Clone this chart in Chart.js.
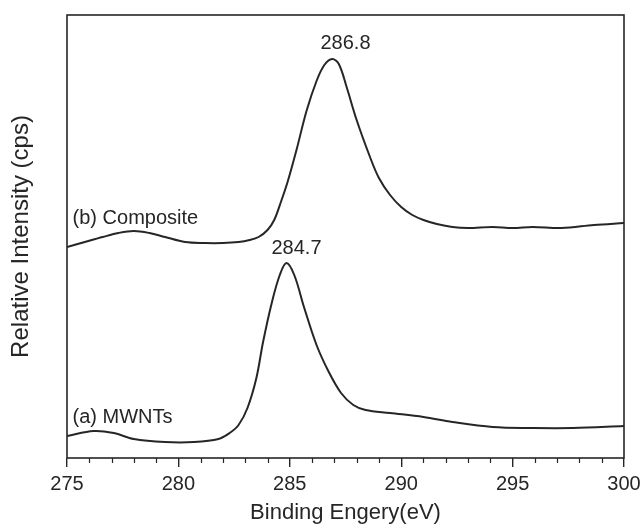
<!DOCTYPE html>
<html>
<head>
<meta charset="utf-8">
<script src="https://cdn.jsdelivr.net/npm/chart.js@4.4.1/dist/chart.umd.min.js"></script>
<style>
  body { margin: 0; background: #fff; }
  #wrap { width: 642px; height: 530px; }
</style>
</head>
<body>
<div id="wrap"><canvas id="xpsChart" width="642" height="530"></canvas></div>
<script>
// Composite spectrum (b)
const energyB = [275.0, 275.8, 276.6, 277.3, 278.0, 278.7, 279.4, 280.3, 281.2, 282.0, 282.7, 283.2, 283.6, 284.0, 284.3, 284.6, 284.9, 285.3, 285.75, 286.2, 286.55, 286.9, 287.2, 287.55, 288.0, 288.6, 289.0, 289.5, 290.0, 290.5, 291.0, 291.6, 292.3, 293.0, 294.1, 295.0, 295.9, 297.2, 298.65, 300.0];
const intensityB = [211, 216, 221, 225, 227, 225, 221, 216, 215, 215, 216, 218, 221, 228, 238, 256, 276, 308, 347, 377, 393, 399, 394, 371, 338, 301, 280, 263, 251, 243, 238, 234, 231, 230, 231, 230, 231, 230, 233, 235];

// MWNTs spectrum (a)
const energyA = [275.0, 276.2, 277.1, 278.0, 279.4, 280.7, 281.8, 282.3, 282.7, 283.1, 283.5, 283.8, 284.2, 284.55, 284.85, 285.2, 285.65, 286.2, 286.75, 287.3, 287.85, 288.4, 289.5, 291.0, 292.3, 294.1, 295.9, 297.7, 300.0];
const intensityA = [22, 27, 25, 19, 16, 16, 19, 25, 33, 50, 80, 116, 156, 183, 195, 183, 150, 113, 86, 65, 53, 48, 45, 41, 36, 31, 30, 30, 32];

// Text on the plot
const noteTexts = ['286.8', '284.7', '(b) Composite', '(a) MWNTs'];
const noteX = [287.5, 285.3, 275.25, 275.25];
const noteY = [415, 210, 240, 41];
const noteAlign = ['center', 'center', 'left', 'left'];

const ink = '#262626';
const fontFam = '"Liberation Sans", Arial, sans-serif';

function toPoints(xs, ys) {
    return xs.map((x, i) => ({ x: x, y: ys[i] }));
}

// frame, minor ticks and text notes
const decorPlugin = {
    id: 'decor',
    afterDraw(chart) {
        const ctx = chart.ctx;
        const area = chart.chartArea;
        const xs = chart.scales.x;
        const ys = chart.scales.y;
        ctx.save();
        ctx.strokeStyle = ink;
        ctx.lineWidth = 1.6;
        ctx.strokeRect(area.left, area.top, area.right - area.left, area.bottom - area.top);

        ctx.lineWidth = 1.2;
        for (let v = 276; v < 300; v++) {
            if (v % 5 === 0) continue;
            const px = Math.round(xs.getPixelForValue(v)) + 0.5;
            ctx.beginPath();
            ctx.moveTo(px, area.bottom);
            ctx.lineTo(px, area.bottom + 5);
            ctx.stroke();
        }

        ctx.fillStyle = ink;
        ctx.font = '20px ' + fontFam;
        ctx.textBaseline = 'middle';
        noteTexts.forEach((t, i) => {
            ctx.textAlign = noteAlign[i];
            ctx.fillText(t, xs.getPixelForValue(noteX[i]), ys.getPixelForValue(noteY[i]));
        });
        ctx.restore();
    }
};

const ctx = document.getElementById('xpsChart').getContext('2d');
new Chart(ctx, {
    type: 'line',
    data: {
        datasets: [{
            label: '(b) Composite',
            data: toPoints(energyB, intensityB),
            borderColor: ink,
            borderWidth: 2,
            pointRadius: 0,
            tension: 0.35
        }, {
            label: '(a) MWNTs',
            data: toPoints(energyA, intensityA),
            borderColor: ink,
            borderWidth: 2,
            pointRadius: 0,
            tension: 0.35
        }]
    },
    options: {
        responsive: false,
        animation: false,
        layout: {
            padding: { top: 15, right: 18, left: 0, bottom: 0 }
        },
        plugins: {
            legend: { display: false },
            tooltip: { enabled: false }
        },
        scales: {
            x: {
                type: 'linear',
                min: 275,
                max: 300,
                afterFit: s => { s.height = 72; s.paddingRight = 0; s.paddingLeft = 0; },
                border: { display: false },
                grid: {
                    drawOnChartArea: false,
                    drawTicks: true,
                    tickLength: 9,
                    color: ink,
                    lineWidth: 1.4
                },
                ticks: {
                    stepSize: 5,
                    padding: 5,
                    color: ink,
                    font: { family: fontFam, size: 20 }
                },
                title: {
                    display: true,
                    text: 'Binding Engery(eV)',
                    color: ink,
                    font: { family: fontFam, size: 22 },
                    padding: { top: 0, bottom: 4 }
                }
            },
            y: {
                min: 0,
                max: 443,
                afterFit: s => { s.width = 67; },
                border: { display: false },
                grid: { display: false },
                ticks: { display: false },
                title: {
                    display: true,
                    text: 'Relative Intensity (cps)',
                    color: ink,
                    font: { family: fontFam, size: 24 },
                    padding: { top: 7, bottom: 0 }
                }
            }
        }
    },
    plugins: [decorPlugin]
});
</script>
</body>
</html>
